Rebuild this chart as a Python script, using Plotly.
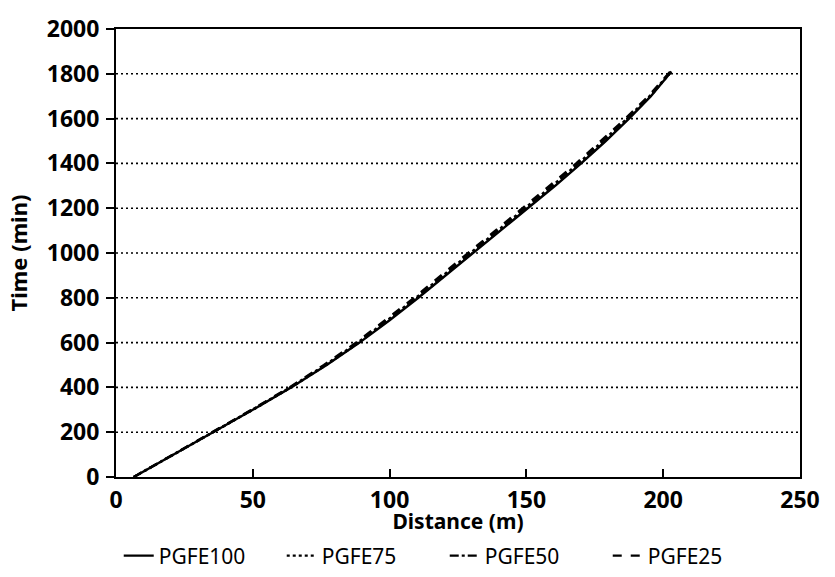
import plotly.graph_objects as go

# Advance time of the wetting front along the furrow for each treatment
time_min = [0, 100, 200, 300, 400, 500, 600, 700, 800, 900,
            1000, 1100, 1200, 1300, 1400, 1500, 1600, 1700, 1810]

dist_pgfe100 = [6.5, 21.0, 36.0, 50.0, 64.0, 77.0, 89.0, 100.0, 110.5, 120.5,
                130.5, 140.5, 150.5, 160.5, 170.0, 179.0, 187.5, 195.5, 203.0]
dist_pgfe75 = [6.5, 21.0, 36.0, 50.0, 64.0, 76.8, 88.8, 99.7, 110.2, 120.2,
               130.2, 140.2, 150.1, 160.1, 169.7, 178.7, 187.2, 195.3, 203.0]
dist_pgfe50 = [6.5, 21.0, 35.8, 49.8, 63.7, 76.4, 88.3, 99.2, 109.6, 119.6,
               129.6, 139.5, 149.5, 159.4, 169.0, 178.1, 186.8, 195.0, 202.8]
dist_pgfe25 = [6.5, 20.8, 35.6, 49.5, 63.4, 76.0, 87.8, 98.6, 109.0, 118.8,
               128.8, 138.7, 148.6, 158.5, 168.2, 177.4, 186.2, 194.6, 202.6]

series_names = ["PGFE100", "PGFE75", "PGFE50", "PGFE25"]
series_dists = [dist_pgfe100, dist_pgfe75, dist_pgfe50, dist_pgfe25]
series_dash = ["solid", "dot", "dashdot", "dash"]

x_ticks = [0, 50, 100, 150, 200, 250]
y_ticks = [0, 200, 400, 600, 800, 1000, 1200, 1400, 1600, 1800, 2000]

FONT = "Noto Sans"

fig = go.Figure()
for name, dist, dash in zip(series_names, series_dists, series_dash):
    fig.add_trace(go.Scatter(
        x=dist, y=time_min, mode="lines", name=name,
        line=dict(color="black", width=2.4, dash=dash),
    ))

fig.update_layout(
    width=835, height=577,
    margin=dict(l=116, r=35, t=29, b=100),
    paper_bgcolor="white", plot_bgcolor="white",
    font=dict(family=FONT, color="black"),
    showlegend=True,
    legend=dict(
        orientation="h", x=0.004, xanchor="left",
        yref="container", y=0.072, yanchor="top",
        font=dict(family=FONT, size=21, color="black"),
        itemwidth=30, entrywidth=118, entrywidthmode="pixels",
        bgcolor="rgba(0,0,0,0)",
    ),
)

fig.update_xaxes(
    range=[0, 250], tickvals=x_ticks, ticktext=[str(v) for v in x_ticks],
    ticks="inside", ticklen=8, tickwidth=2, tickcolor="black",
    showline=True, linecolor="black", linewidth=2, mirror=True,
    showgrid=False, zeroline=False, ticklabelstandoff=1, automargin=False,
    tickfont=dict(family=FONT, size=23, color="black", weight="bold"),
    title=dict(text="Distance (m)", standoff=6,
               font=dict(family=FONT, size=21, color="black", weight="bold")),
)

fig.update_yaxes(
    range=[0, 2000], tickvals=y_ticks, ticktext=[str(v) for v in y_ticks],
    ticks="outside", ticklen=8, tickwidth=2, tickcolor="black",
    showline=True, linecolor="black", linewidth=2, mirror=True,
    showgrid=False, zeroline=False, ticklabelstandoff=2, automargin=False,
    tickfont=dict(family=FONT, size=23, color="black", weight="bold"),
    title=dict(text="Time (min)", standoff=13,
               font=dict(family=FONT, size=22, color="black", weight="bold")),
)

# Dotted horizontal reference lines at each labelled time level
for yv in y_ticks[1:-1]:
    fig.add_shape(type="line", xref="paper", yref="y", x0=0, x1=1, y0=yv, y1=yv,
                  line=dict(color="black", width=1.6, dash="2px,3px"), layer="below")

fig.write_html("out.html")
